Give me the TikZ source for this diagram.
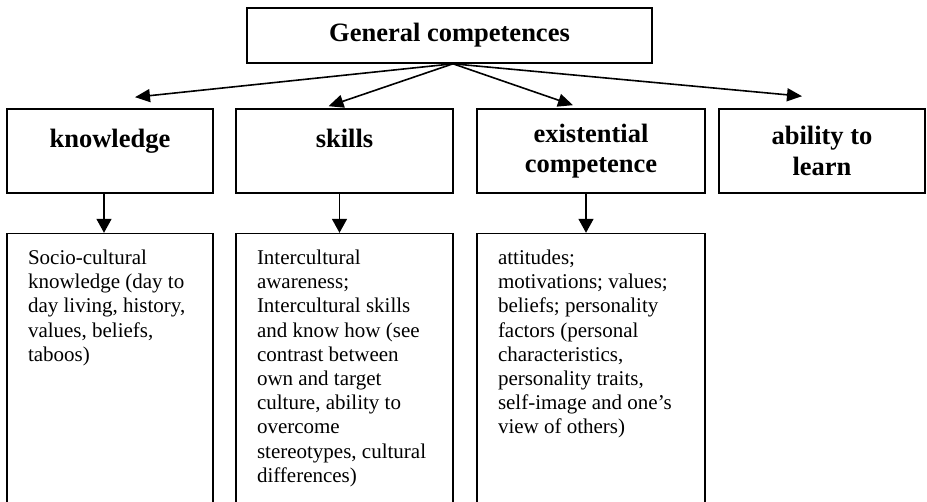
\documentclass[tikz,border=0pt]{standalone}
\usepackage{fontspec}
\setmainfont{Liberation Serif}
\usepackage{tikz}
\usetikzlibrary{arrows.meta, positioning}

\newcommand{\headfont}{\fontsize{26.5}{30.5}\selectfont\bfseries}
\newcommand{\bodyfont}{\fontsize{21}{24.2}\selectfont}
\newcommand{\detailtext}[2]{\parbox[t][250pt][t]{#1}{\strut#2}}

\begin{document}
\begin{tikzpicture}[
    x=1pt, y=-1pt,
    rootbox/.style={rectangle, draw=black, line width=1.6pt, minimum width=405pt, minimum height=55pt, font=\headfont},
    header/.style={rectangle, draw=black, line width=1.6pt, minimum height=84pt, align=center, font=\headfont},
    detail/.style={rectangle, draw=black, line width=1.6pt, inner xsep=21pt, inner ysep=14pt, font=\bodyfont},
    fan/.style={-{Triangle[length=15pt,width=13pt]}, line width=1.6pt},
    downarrow/.style={-{Triangle[length=14pt,width=15pt]}, line width=1.6pt}
]
    \useasboundingbox (0,0) rectangle (927,502);

    % Top
    \node[rootbox] (gc) at (449.5,35.5) {General competences};

    % Competences
    \node[header, minimum width=206pt] (know) at (110,151) {knowledge\\[-6pt]~};
    \node[header, minimum width=217pt, right=21.4pt of know] (skills) {skills\\[-6pt]~};
    \node[header, minimum width=228pt, right=22.4pt of skills] (exist) {existential\\competence};
    \node[header, minimum width=206pt, right=12.4pt of exist] (learn) {ability to\\learn};

    % Details
    \node[detail, below=39pt of know] (knowtxt) {\detailtext{164pt}{Socio-cultural\\
        knowledge (day to\\
        day living, history,\\
        values, beliefs,\\
        taboos)}};
    \node[detail, below=39pt of skills] (skillstxt) {\detailtext{175pt}{Intercultural\\
        awareness;\\
        Intercultural skills\\
        and know how (see\\
        contrast between\\
        own and target\\
        culture, ability to\\
        overcome\\
        stereotypes, cultural\\
        differences)}};
    \node[detail, below=39pt of exist] (existtxt) {\detailtext{186pt}{attitudes;\\
        motivations; values;\\
        beliefs; personality\\
        factors (personal\\
        characteristics,\\
        personality traits,\\
        self-image and one's\\
        view of others)}};

    % Arrow ends
    \coordinate (gc-out) at ([xshift=3.5pt]gc.south);
    \coordinate (know-in) at ([xshift=25pt,yshift=11pt]know.north);
    \coordinate (skills-in) at ([xshift=-16pt,yshift=2pt]skills.north);
    \coordinate (exist-in) at ([xshift=-18pt,yshift=3pt]exist.north);
    \coordinate (learn-in) at ([xshift=-20pt,yshift=12pt]learn.north);

    % Relationships
    \draw[fan] (gc-out) -- (know-in);
    \draw[fan] (gc-out) -- (skills-in);
    \draw[fan] (gc-out) -- (exist-in);
    \draw[fan] (gc-out) -- (learn-in);
    \draw[downarrow] ([xshift=-6pt]know.south) -- ([xshift=-6pt]knowtxt.north);
    \draw[downarrow] ([xshift=-5pt]skills.south) -- ([xshift=-5pt]skillstxt.north);
    \draw[downarrow] ([xshift=-5pt]exist.south) -- ([xshift=-5pt]existtxt.north);
\end{tikzpicture}
\end{document}
